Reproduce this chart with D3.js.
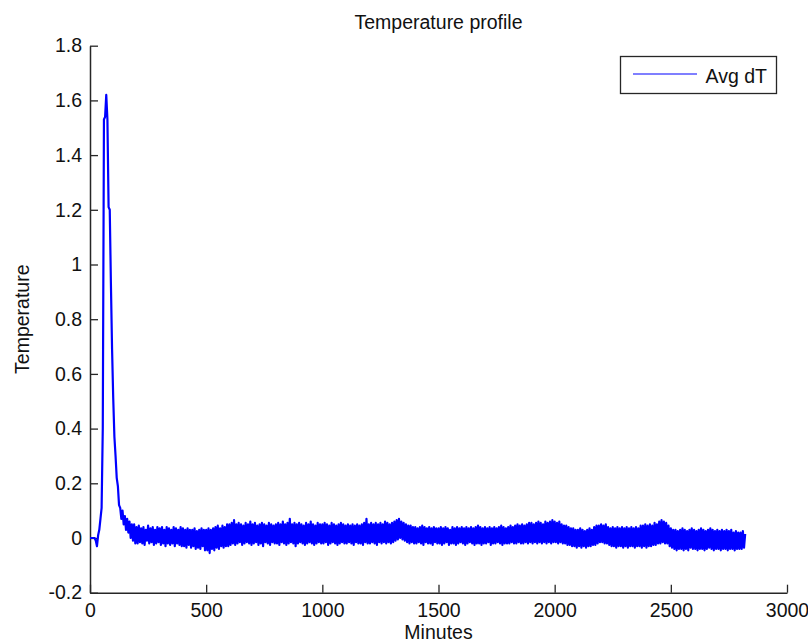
<!DOCTYPE html>
<html>
<head>
<meta charset="utf-8">
<script src="https://cdn.jsdelivr.net/npm/d3@7"></script>
<style>
  body { margin: 0; background: #fff; }
  svg { display: block; font-family: "Liberation Sans", Arial, sans-serif; }
</style>
</head>
<body>
<svg id="chart"></svg>
<script>
// sampling of the series (minutes)
const startMinute = 0;
const stepMinutes = 5;

// Avg dT, one value every 5 minutes, rows of 100 minutes
const avgDT = [
  0, 0, 0, 0, 0, -0.01, -0.03, 0.01, 0.03, 0.07, 0.11, 0.40, 1.53, 1.54, 1.62, 1.53, 1.21, 1.20, 0.93, 0.69,
  0.51, 0.37, 0.30, 0.22, 0.19, 0.12, 0.11, 0.07, 0.10, 0.05, 0.08, 0.03, 0.07, 0.02, 0.06, 0.00, 0.05, -0.01, 0.05, -0.02,
  0.04, -0.02, 0.045, -0.015, 0.035, -0.02, 0.04, -0.025, 0.03, -0.01, 0.045, -0.02, 0.035, -0.015, 0.04, -0.025, 0.03, -0.02, 0.04, -0.015,
  0.035, -0.025, 0.04, -0.02, 0.03, -0.03, 0.04, -0.02, 0.035, -0.025, 0.03, -0.02, 0.04, -0.03, 0.035, -0.02, 0.03, -0.025, 0.04, -0.03,
  0.035, -0.03, 0.03, -0.035, 0.035, -0.025, 0.03, -0.035, 0.03, -0.03, 0.035, -0.04, 0.025, -0.035, 0.03, -0.04, 0.035, -0.03, 0.03, -0.045,
  0.03, -0.045, 0.035, -0.055, 0.03, -0.04, 0.035, -0.045, 0.04, -0.035, 0.045, -0.04, 0.035, -0.03, 0.045, -0.035, 0.04, -0.03, 0.05, -0.03,
  0.05, -0.025, 0.055, -0.02, 0.065, -0.025, 0.05, -0.02, 0.055, -0.015, 0.05, -0.025, 0.045, -0.02, 0.055, -0.015, 0.05, -0.02, 0.06, -0.025,
  0.05, -0.02, 0.055, -0.015, 0.045, -0.025, 0.05, -0.02, 0.055, -0.03, 0.05, -0.015, 0.045, -0.02, 0.055, -0.025, 0.05, -0.015, 0.045, -0.02,
  0.05, -0.02, 0.055, -0.025, 0.05, -0.015, 0.06, -0.02, 0.05, -0.025, 0.055, -0.02, 0.07, -0.015, 0.05, -0.02, 0.055, -0.03, 0.05, -0.02,
  0.055, -0.015, 0.05, -0.02, 0.045, -0.025, 0.055, -0.02, 0.05, -0.015, 0.06, -0.02, 0.05, -0.025, 0.045, -0.02, 0.055, -0.015, 0.05, -0.02,
  0.05, -0.02, 0.055, -0.015, 0.05, -0.025, 0.045, -0.02, 0.055, -0.015, 0.05, -0.02, 0.045, -0.025, 0.05, -0.02, 0.055, -0.015, 0.05, -0.02,
  0.045, -0.02, 0.05, -0.015, 0.045, -0.02, 0.05, -0.025, 0.045, -0.015, 0.05, -0.02, 0.045, -0.02, 0.05, -0.025, 0.055, -0.015, 0.07, -0.02,
  0.05, -0.02, 0.055, -0.015, 0.05, -0.02, 0.055, -0.025, 0.05, -0.015, 0.055, -0.02, 0.05, -0.015, 0.06, -0.02, 0.055, -0.015, 0.05, -0.02,
  0.055, -0.015, 0.06, -0.01, 0.065, -0.005, 0.07, 0.00, 0.06, -0.005, 0.055, -0.01, 0.05, -0.015, 0.045, -0.02, 0.045, -0.015, 0.04, -0.02,
  0.04, -0.02, 0.035, -0.015, 0.04, -0.02, 0.045, -0.025, 0.04, -0.015, 0.035, -0.02, 0.04, -0.02, 0.035, -0.025, 0.04, -0.015, 0.035, -0.02,
  0.035, -0.02, 0.04, -0.025, 0.035, -0.02, 0.04, -0.015, 0.035, -0.025, 0.03, -0.02, 0.04, -0.02, 0.035, -0.025, 0.04, -0.02, 0.035, -0.015,
  0.04, -0.02, 0.035, -0.025, 0.04, -0.02, 0.035, -0.015, 0.04, -0.02, 0.035, -0.025, 0.04, -0.02, 0.045, -0.02, 0.04, -0.025, 0.035, -0.02,
  0.04, -0.02, 0.035, -0.015, 0.04, -0.025, 0.035, -0.02, 0.04, -0.02, 0.035, -0.015, 0.04, -0.02, 0.045, -0.025, 0.04, -0.02, 0.035, -0.02,
  0.04, -0.02, 0.045, -0.015, 0.04, -0.02, 0.045, -0.02, 0.05, -0.015, 0.045, -0.02, 0.05, -0.02, 0.045, -0.015, 0.05, -0.02, 0.055, -0.015,
  0.055, -0.02, 0.05, -0.015, 0.055, -0.02, 0.06, -0.015, 0.055, -0.02, 0.05, -0.015, 0.06, -0.02, 0.055, -0.015, 0.06, -0.02, 0.065, -0.015,
  0.06, -0.015, 0.055, -0.02, 0.06, -0.015, 0.05, -0.02, 0.045, -0.02, 0.045, -0.025, 0.04, -0.025, 0.035, -0.03, 0.035, -0.03, 0.03, -0.035,
  0.03, -0.03, 0.035, -0.035, 0.03, -0.03, 0.025, -0.035, 0.03, -0.03, 0.035, -0.03, 0.03, -0.025, 0.04, -0.025, 0.045, -0.02, 0.045, -0.015,
  0.05, -0.015, 0.045, -0.02, 0.05, -0.02, 0.04, -0.025, 0.035, -0.03, 0.04, -0.03, 0.035, -0.035, 0.04, -0.03, 0.035, -0.03, 0.04, -0.035,
  0.035, -0.03, 0.04, -0.035, 0.035, -0.03, 0.04, -0.03, 0.035, -0.035, 0.04, -0.03, 0.035, -0.03, 0.045, -0.035, 0.045, -0.03, 0.05, -0.035,
  0.045, -0.03, 0.05, -0.03, 0.045, -0.025, 0.055, -0.025, 0.05, -0.02, 0.06, -0.02, 0.065, -0.015, 0.06, -0.02, 0.055, -0.02, 0.045, -0.03,
  0.035, -0.035, 0.03, -0.04, 0.03, -0.045, 0.025, -0.04, 0.03, -0.04, 0.035, -0.045, 0.03, -0.04, 0.025, -0.045, 0.03, -0.035, 0.035, -0.04,
  0.03, -0.04, 0.025, -0.045, 0.03, -0.04, 0.035, -0.04, 0.03, -0.045, 0.025, -0.04, 0.03, -0.035, 0.035, -0.04, 0.03, -0.045, 0.025, -0.04,
  0.03, -0.04, 0.025, -0.045, 0.03, -0.04, 0.025, -0.04, 0.03, -0.045, 0.025, -0.04, 0.03, -0.04, 0.02, -0.045, 0.025, -0.04, 0.02, -0.04,
  0.02, -0.04, 0.025, -0.035, 0.015
];

const xTicks = [0, 500, 1000, 1500, 2000, 2500, 3000];
const yTicks = [-0.2, 0, 0.2, 0.4, 0.6, 0.8, 1, 1.2, 1.4, 1.6, 1.8];

const titleText = "Temperature profile";
const xAxisText = "Minutes";
const yAxisText = "Temperature";
const seriesName = "Avg dT";

const width = 808, height = 644;
const marginTop = 45.7, marginRight = 21, marginBottom = 51.3, marginLeft = 90;
const fontSize = "19.5px";
const axisColor = "#262626";
const lineColor = "#0000ff";

const svg = d3.select("#chart")
  .attr("width", width)
  .attr("height", height)
  .attr("viewBox", [0, 0, width, height]);

const x = d3.scaleLinear([0, 3000], [marginLeft, width - marginRight]);
const y = d3.scaleLinear([-0.2, 1.8], [height - marginBottom, marginTop]);

// x axis, ticks pointing inward
svg.append("g")
  .attr("transform", `translate(0, ${height - marginBottom})`)
  .call(d3.axisBottom(x).tickValues(xTicks).tickSize(-8).tickSizeOuter(0).tickPadding(14).tickFormat(d => String(d)))
  .call(g => g.select(".domain").attr("stroke", axisColor).attr("stroke-width", 1.5))
  .call(g => g.selectAll(".tick line").attr("stroke", axisColor).attr("stroke-width", 1.3))
  .call(g => g.selectAll(".tick text")
    .attr("fill", "#111")
    .style("font-size", fontSize)
    .attr("y", 24)
    .attr("dy", null));

// y axis
svg.append("g")
  .attr("transform", `translate(${marginLeft}, 0)`)
  .call(d3.axisLeft(y).tickValues(yTicks).tickSize(-8).tickSizeOuter(0).tickPadding(16).tickFormat(d => String(d)))
  .call(g => g.select(".domain").attr("stroke", axisColor).attr("stroke-width", 1.5))
  .call(g => g.selectAll(".tick line").attr("stroke", axisColor).attr("stroke-width", 1.3))
  .call(g => g.selectAll(".tick text")
    .attr("fill", "#111")
    .style("font-size", fontSize)
    .attr("x", -8));

// series
const line = d3.line()
  .x((d, i) => x(startMinute + i * stepMinutes))
  .y(d => y(d));

svg.append("path")
  .datum(avgDT)
  .attr("fill", "none")
  .attr("stroke", lineColor)
  .attr("stroke-width", 2.2)
  .attr("stroke-linejoin", "round")
  .attr("d", line);

// title and axis labels
svg.append("text")
  .attr("x", (marginLeft + width - marginRight) / 2)
  .attr("y", 29)
  .attr("text-anchor", "middle")
  .attr("fill", "#111")
  .style("font-size", fontSize)
  .text(titleText);

svg.append("text")
  .attr("x", (marginLeft + width - marginRight) / 2)
  .attr("y", 639)
  .attr("text-anchor", "middle")
  .attr("fill", "#111")
  .style("font-size", fontSize)
  .text(xAxisText);

svg.append("text")
  .attr("transform", `translate(29, ${(marginTop + height - marginBottom) / 2}) rotate(-90)`)
  .attr("text-anchor", "middle")
  .attr("fill", "#111")
  .style("font-size", fontSize)
  .text(yAxisText);

// legend
const legend = svg.append("g").attr("transform", "translate(620.5, 56.5)");
legend.append("rect")
  .attr("width", 156)
  .attr("height", 37)
  .attr("fill", "#fff")
  .attr("stroke", axisColor)
  .attr("stroke-width", 1.3);
legend.append("line")
  .attr("x1", 12.5).attr("x2", 76.5)
  .attr("y1", 17.5).attr("y2", 17.5)
  .attr("stroke", lineColor)
  .attr("stroke-width", 1.2);
legend.append("text")
  .attr("x", 85)
  .attr("y", 26)
  .attr("fill", "#111")
  .style("font-size", fontSize)
  .text(seriesName);
</script>
</body>
</html>
